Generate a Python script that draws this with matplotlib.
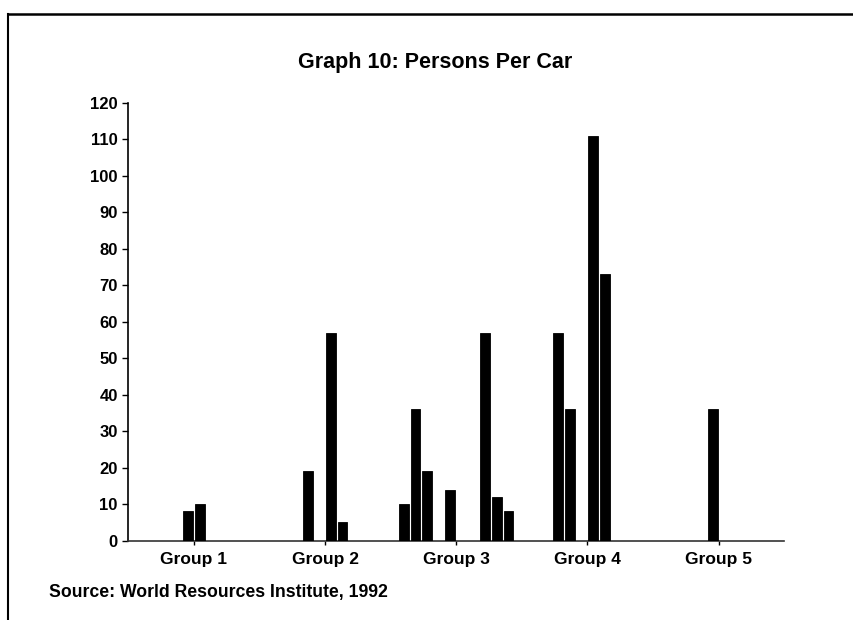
import matplotlib.pyplot as plt
from matplotlib.lines import Line2D
import numpy as np

plt.rcParams['font.family'] = ['Liberation Sans', 'DejaVu Sans']

# persons per car, 10 countries per group (0 = no value)
groups = ['Group 1', 'Group 2', 'Group 3', 'Group 4', 'Group 5']
group1 = [0, 0, 0, 0, 8, 10, 0, 0, 0, 0]
group2 = [0, 0, 0, 19, 0, 57, 5, 0, 0, 0]
group3 = [10, 36, 19, 0, 14, 0, 0, 57, 12, 8]
group4 = [0, 0, 57, 36, 0, 111, 73, 0, 0, 0]
group5 = [0, 0, 0, 0, 36, 0, 0, 0, 0, 0]
yticks = list(range(0, 121, 10))

values = np.array([group1, group2, group3, group4, group5])
n_slots = values.shape[1]
slot_w = 0.0885
bar_w = 0.075

fig = plt.figure(figsize=(8.54, 6.2), dpi=100)
ax = fig.add_axes([0.1502, 0.128, 0.768, 0.7064])

for s in range(n_slots):
    xs = np.arange(len(groups)) + (s - (n_slots - 1) / 2) * slot_w
    ax.bar(xs, values[:, s], width=bar_w, color='black',
           edgecolor='black', linewidth=0.6, zorder=3)

ax.set_xlim(-0.5, len(groups) - 0.5)
ax.set_ylim(0, 120)
ax.set_yticks(yticks)
ax.set_xticks(range(len(groups)))
ax.set_xticklabels(groups)

for side in ['top', 'right']:
    ax.spines[side].set_visible(False)
ax.spines['left'].set_linewidth(1.2)
ax.spines['bottom'].set_linewidth(1.2)
ax.spines['bottom'].set_color('#333333')

ax.tick_params(axis='y', direction='out', length=4.5, width=1, pad=3,
               labelsize=12)
ax.tick_params(axis='x', direction='out', length=3, width=1, pad=5,
               labelsize=12.5)
for lab in ax.get_xticklabels() + ax.get_yticklabels():
    lab.set_fontweight('bold')

fig.text(0.509, 0.8903, 'Graph 10: Persons Per Car', ha='center',
         va='baseline', fontsize=15.5, fontweight='bold')
fig.text(0.057, 0.045, 'Source: World Resources Institute, 1992',
         ha='left', va='center', fontsize=12.7, fontweight='bold')

# page frame (top and left edges)
fig.add_artist(Line2D([0.0094, 1.0], [0.978, 0.978], color='black',
                      linewidth=1.8, transform=fig.transFigure))
fig.add_artist(Line2D([0.0094, 0.0094], [0.0, 0.978], color='black',
                      linewidth=1.5, transform=fig.transFigure))

fig.savefig('out.png', dpi=100)
